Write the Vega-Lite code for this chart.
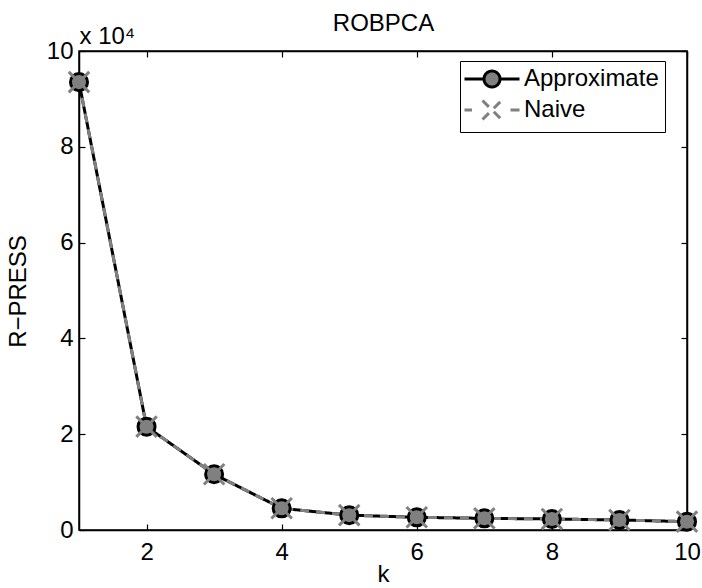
{
  "$schema": "https://vega.github.io/schema/vega-lite/v6.json",
  "autosize": {"type": "none"},
  "width": 608,
  "height": 479,
  "padding": {"left": 79, "top": 51, "right": 15, "bottom": 58},
  "background": "white",
  "config": {
    "font": "Liberation Sans",
    "view": {"stroke": "black", "strokeWidth": 1.5},
    "axis": {
      "grid": false,
      "domainColor": "black",
      "domainWidth": 1.5,
      "tickColor": "black",
      "tickWidth": 1.2,
      "tickSize": -6,
      "labelFont": "Liberation Sans",
      "labelFontSize": 24,
      "labelColor": "black",
      "labelFlush": false,
      "labelOverlap": false,
      "titleFont": "Liberation Sans",
      "titleFontSize": 24,
      "titleFontWeight": "normal",
      "titleColor": "black"
    }
  },
  "data": {
    "values": [
      {"k": 1, "value": 93500, "series": "Approximate"},
      {"k": 2, "value": 21570, "series": "Approximate"},
      {"k": 3, "value": 11630, "series": "Approximate"},
      {"k": 4, "value": 4530, "series": "Approximate"},
      {"k": 5, "value": 3100, "series": "Approximate"},
      {"k": 6, "value": 2650, "series": "Approximate"},
      {"k": 7, "value": 2440, "series": "Approximate"},
      {"k": 8, "value": 2300, "series": "Approximate"},
      {"k": 9, "value": 2090, "series": "Approximate"},
      {"k": 10, "value": 1740, "series": "Approximate"},
      {"k": 1, "value": 93500, "series": "Naive"},
      {"k": 2, "value": 21570, "series": "Naive"},
      {"k": 3, "value": 11630, "series": "Naive"},
      {"k": 4, "value": 4530, "series": "Naive"},
      {"k": 5, "value": 3100, "series": "Naive"},
      {"k": 6, "value": 2650, "series": "Naive"},
      {"k": 7, "value": 2440, "series": "Naive"},
      {"k": 8, "value": 2300, "series": "Naive"},
      {"k": 9, "value": 2090, "series": "Naive"},
      {"k": 10, "value": 1740, "series": "Naive"}
    ]
  },
  "resolve": {"axis": {"x": "independent", "y": "independent"}},
  "layer": [
    {
      "mark": {"type": "line", "strokeWidth": 3},
      "encoding": {
        "x": {"field": "k", "type": "quantitative",
              "scale": {"domain": [1, 10], "nice": false, "zero": false},
              "axis": {"orient": "bottom", "values": [2, 4, 6, 8, 10], "labelPadding": 16,
                       "title": "k", "titleX": 304, "titleY": 51, "titleBaseline": "alphabetic", "titleAnchor": null}},
        "y": {"field": "value", "type": "quantitative",
              "scale": {"domain": [0, 100000], "nice": false},
              "axis": {"orient": "left", "values": [0, 20000, 40000, 60000, 80000, 100000],
                       "labelExpr": "datum.value / 10000", "labelPadding": 12,
                       "title": "R−PRESS", "titleAngle": -90, "titleX": -61, "titleY": 240,
                       "titleBaseline": "middle", "titleAlign": "center"}},
        "color": {"field": "series", "type": "nominal",
                  "scale": {"domain": ["Approximate", "Naive"], "range": ["black", "#808080"]},
                  "legend": {
                    "orient": "none", "legendX": 381, "legendY": 10,
                    "title": null,
                    "labelFont": "Liberation Sans", "labelFontSize": 24, "labelColor": "black",
                    "symbolSize": 400, "symbolStrokeWidth": 3, "symbolType": "circle",
                    "strokeColor": "black", "fillColor": "white", "padding": 6,
                    "rowPadding": 1, "labelOffset": 20, "symbolOffset": 14,
                    "encode": {
                      "symbols": {
                        "update": {
                          "shape": {"signal": "datum.value === 'Approximate' ? 'M-2.75,0L-0.8,0M0.8,0L2.75,0M-0.8,0A0.8,0.8 0 1,0 0.8,0A0.8,0.8 0 1,0 -0.8,0Z' : 'M-2.75,0L-2,0M1.85,0L2.75,0M-0.95,-0.95L0.95,0.95M-0.95,0.95L0.95,-0.95'"},
                          "fill": {"signal": "datum.value === 'Approximate' ? '#808080' : 'transparent'"},
                          "stroke": {"signal": "datum.value === 'Approximate' ? 'black' : '#808080'"},
                          "strokeDash": {"value": []},
                          "strokeWidth": {"value": 3},
                          "opacity": {"value": 1},
                          "fillOpacity": {"value": 1}
                        }
                      }
                    }
                  }},
        "strokeDash": {"field": "series", "type": "nominal",
                       "scale": {"domain": ["Approximate", "Naive"], "range": [[1, 0], [9, 7]]},
                       "legend": null}
      }
    },
    {
      "transform": [{"filter": "datum.series === 'Approximate'"}],
      "mark": {"type": "point", "shape": "circle", "filled": true, "fill": "#808080", "stroke": "black",
               "strokeWidth": 3, "size": 290, "opacity": 1, "fillOpacity": 1, "strokeOpacity": 1},
      "encoding": {
        "x": {"field": "k", "type": "quantitative", "axis": null},
        "y": {"field": "value", "type": "quantitative", "axis": null}
      }
    },
    {
      "transform": [{"filter": "datum.series === 'Naive'"}],
      "mark": {"type": "point", "shape": "M-1,-1L1,1M-1,1L1,-1", "filled": false, "stroke": "#808080",
               "strokeWidth": 3, "size": 420, "opacity": 1, "strokeOpacity": 1},
      "encoding": {
        "x": {"field": "k", "type": "quantitative", "axis": null},
        "y": {"field": "value", "type": "quantitative", "axis": null}
      }
    },
    {
      "mark": {"type": "point", "opacity": 0},
      "encoding": {
        "x": {"field": "k", "type": "quantitative",
              "axis": {"orient": "top", "values": [2, 4, 6, 8, 10], "labels": false,
                       "title": "ROBPCA", "titleX": 304, "titleY": -21, "titleBaseline": "alphabetic", "titleAnchor": null}},
        "y": {"field": "value", "type": "quantitative",
              "axis": {"orient": "right", "values": [0, 20000, 40000, 60000, 80000, 100000], "labels": false,
                       "title": "x 10⁴", "titleAngle": 0, "titleX": -608, "titleY": -8,
                       "titleAlign": "left", "titleBaseline": "alphabetic", "titleAnchor": null}}
      }
    }
  ]
}
